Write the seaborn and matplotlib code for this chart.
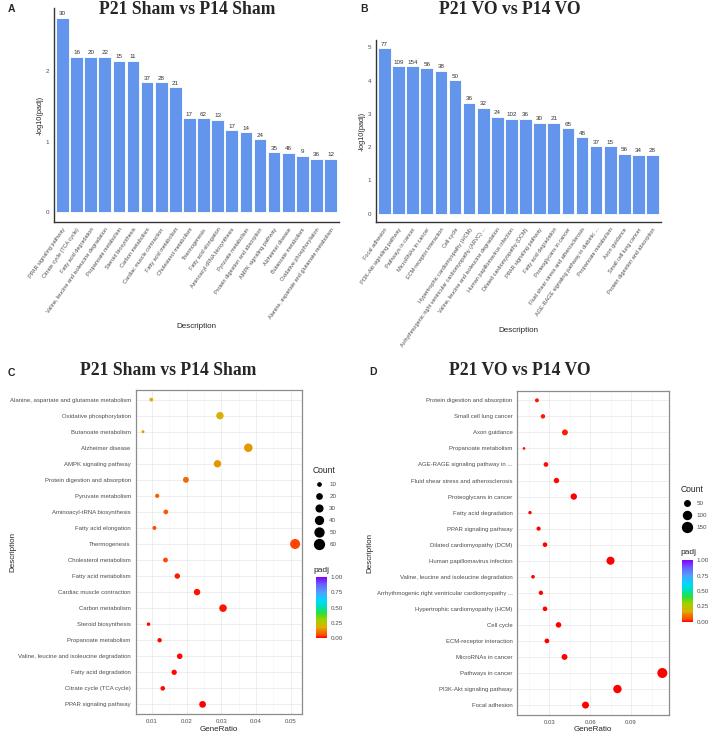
import matplotlib
matplotlib.use("Agg")
import matplotlib.pyplot as plt
from matplotlib.colors import LinearSegmentedColormap, Normalize
from matplotlib.cm import ScalarMappable
from matplotlib.ticker import MultipleLocator, FormatStrFormatter
import seaborn as sns

# Sham: P21 vs P14 KEGG enrichment (bar order = bottom-to-top order of dot plot)
sham_terms = [
    "PPAR signaling pathway", "Citrate cycle (TCA cycle)", "Fatty acid degradation",
    "Valine, leucine and isoleucine degradation", "Propanoate metabolism",
    "Steroid biosynthesis", "Carbon metabolism", "Cardiac muscle contraction",
    "Fatty acid metabolism", "Cholesterol metabolism", "Thermogenesis",
    "Fatty acid elongation", "Aminoacyl-tRNA biosynthesis", "Pyruvate metabolism",
    "Protein digestion and absorption", "AMPK signaling pathway", "Alzheimer disease",
    "Butanoate metabolism", "Oxidative phosphorylation",
    "Alanine, aspartate and glutamate metabolism",
]
sham_log_padj = [2.75, 2.20, 2.20, 2.20, 2.14, 2.14, 1.84, 1.84, 1.77, 1.33,
                 1.33, 1.31, 1.16, 1.13, 1.03, 0.85, 0.84, 0.80, 0.76, 0.76]
sham_count = [30, 16, 20, 22, 15, 11, 37, 28, 21, 17, 62, 13, 17, 14, 24, 35, 46, 9, 36, 12]
sham_ratio = [0.0246, 0.0131, 0.0164, 0.0180, 0.0122, 0.0090, 0.0305, 0.0230, 0.0173,
              0.0139, 0.0513, 0.0107, 0.0140, 0.0115, 0.0198, 0.0289, 0.0378, 0.0074,
              0.0296, 0.0098]

# VO: P21 vs P14
vo_terms = [
    "Focal adhesion", "PI3K-Akt signaling pathway", "Pathways in cancer",
    "MicroRNAs in cancer", "ECM-receptor interaction", "Cell cycle",
    "Hypertrophic cardiomyopathy (HCM)",
    "Arrhythmogenic right ventricular cardiomyopathy ...",
    "Valine, leucine and isoleucine degradation", "Human papillomavirus infection",
    "Dilated cardiomyopathy (DCM)", "PPAR signaling pathway", "Fatty acid degradation",
    "Proteoglycans in cancer", "Fluid shear stress and atherosclerosis",
    "AGE-RAGE signaling pathway in ...", "Propanoate metabolism", "Axon guidance",
    "Small cell lung cancer", "Protein digestion and absorption",
]
vo_bar_labels = [
    "Focal adhesion", "PI3K-Akt signaling pathway", "Pathways in cancer",
    "MicroRNAs in cancer", "ECM-receptor interaction", "Cell cycle",
    "Hypertrophic cardiomyopathy (HCM)",
    "Arrhythmogenic right ventricular cardiomyopathy (ARVC) ...",
    "Valine, leucine and isoleucine degradation", "Human papillomavirus infection",
    "Dilated cardiomyopathy (DCM)", "PPAR signaling pathway", "Fatty acid degradation",
    "Proteoglycans in cancer", "Fluid shear stress and atherosclerosis",
    "AGE-RAGE signaling pathway in diabetic ...", "Propanoate metabolism", "Axon guidance",
    "Small cell lung cancer", "Protein digestion and absorption",
]
vo_log_padj = [4.97, 4.43, 4.43, 4.38, 4.30, 4.01, 3.33, 3.19, 2.91, 2.85,
               2.85, 2.74, 2.74, 2.57, 2.30, 2.03, 2.03, 1.80, 1.77, 1.77]
vo_count = [77, 109, 154, 56, 38, 50, 36, 32, 24, 102, 36, 30, 21, 65, 48, 37, 15, 56, 34, 28]
vo_ratio = [0.0566, 0.0800, 0.1129, 0.0412, 0.0283, 0.0368, 0.0269, 0.0239, 0.0181,
            0.0749, 0.0269, 0.0222, 0.0159, 0.0480, 0.0353, 0.0276, 0.0115, 0.0415,
            0.0254, 0.0210]

sham_padj = [10 ** -v for v in sham_log_padj]
vo_padj = [10 ** -v for v in vo_log_padj]

BAR_COLOR = "#6495ED"
TXT = "#4D4D4D"
SANS = "Liberation Sans"
SERIF = "Liberation Serif"

padj_cmap = LinearSegmentedColormap.from_list("padj", [
    (0.0, "#FF0000"), (0.05, "#FF5000"), (0.1, "#F27000"), (0.17, "#DCB000"),
    (0.3, "#A0D000"), (0.4, "#30E030"), (0.5, "#00E0B0"), (0.62, "#00D8FF"),
    (0.75, "#50A0FF"), (0.88, "#6A60FF"), (1.0, "#8000FF"),
])

sns.set_style("white")
plt.rcParams["font.family"] = [SANS, "DejaVu Sans"]

W, H = 709, 734
fig = plt.figure(figsize=(W / 100, H / 100), dpi=100)


def px_axes(l, t, r, b):
    return fig.add_axes([l / W, 1 - b / H, (r - l) / W, (b - t) / H])


def px_text(x, y, s, **kw):
    fig.text(x / W, 1 - y / H, s, ha=kw.pop("ha", "center"), va=kw.pop("va", "center"), **kw)


def bar_panel(rect, terms, values, counts, yticks):
    ax = px_axes(*rect)
    sns.barplot(x=terms, y=values, color=BAR_COLOR, saturation=1, width=0.9,
                edgecolor="white", linewidth=0.6, ax=ax)
    ax.bar_label(ax.containers[0], labels=[str(c) for c in counts],
                 fontsize=4.5, padding=1, color="#333333")
    ax.set_xlim(-0.6, len(terms) - 0.4)
    top = max(values) * 1.05
    ax.set_ylim(-max(values) * 0.05, top)
    ax.set_yticks(yticks)
    ax.tick_params(axis="both", length=2, width=0.6, color="#333333",
                   labelsize=4.5, labelcolor=TXT, pad=1.5)
    plt.setp(ax.get_xticklabels(), rotation=55, ha="right", rotation_mode="anchor",
             fontsize=4.0)
    for side in ("top", "right"):
        ax.spines[side].set_visible(False)
    for side in ("left", "bottom"):
        ax.spines[side].set_color("#333333")
        ax.spines[side].set_linewidth(1.0)
    ax.set_xlabel("")
    ax.set_ylabel("-log10(padj)", fontsize=5.3, labelpad=1.5)
    return ax


def dot_panel(rect, terms, ratio, counts, padj, xlim, xmajor, size_norm, sizes, ylab_x):
    ax = px_axes(*rect)
    sns.scatterplot(x=ratio, y=terms, size=counts, sizes=sizes, size_norm=size_norm,
                    hue=padj, hue_norm=(0, 1), palette=padj_cmap, legend=False,
                    edgecolor="none", linewidth=0, ax=ax, zorder=3)
    ax.set_xlim(*xlim)
    ax.set_ylim(-0.6, len(terms) - 0.4)
    ax.xaxis.set_major_locator(MultipleLocator(xmajor))
    ax.xaxis.set_minor_locator(MultipleLocator(xmajor / 2))
    ax.xaxis.set_major_formatter(FormatStrFormatter("%.2f"))
    ax.grid(True, which="major", color="#EBEBEB", linewidth=0.6)
    ax.grid(True, which="minor", axis="x", color="#F4F4F4", linewidth=0.4)
    ax.set_axisbelow(True)
    for s in ax.spines.values():
        s.set_color("#8C8C8C")
        s.set_linewidth(0.9)
    ax.tick_params(axis="both", which="major", length=2, width=0.5, color="#4D4D4D",
                   labelsize=4.3, labelcolor=TXT, pad=1.5)
    ax.tick_params(axis="x", which="minor", length=0)
    l, t, r, b = rect
    ax.set_xlabel("GeneRatio", fontsize=5.8, va="center")
    ax.xaxis.set_label_coords(0.5, (b - 729.5) / (b - t))
    ax.set_ylabel("Description", fontsize=5.8, va="center")
    ax.yaxis.set_label_coords((ylab_x - l) / (r - l), 0.5)
    return ax


def size_of(v, size_norm, sizes):
    lo, hi = size_norm
    return sizes[0] + (v - lo) / (hi - lo) * (sizes[1] - sizes[0])


def count_legend(ax, x, y, values, size_norm, sizes):
    handles = [ax.scatter([], [], s=size_of(v, size_norm, sizes), color="black")
               for v in values]
    leg = ax.legend(handles, [str(v) for v in values], title="Count", loc="upper left",
                    bbox_to_anchor=(x / W, 1 - y / H), bbox_transform=fig.transFigure,
                    frameon=False, fontsize=4.5, title_fontsize=6.2, borderpad=0,
                    borderaxespad=0, labelspacing=1.05, handletextpad=0.6,
                    handlelength=2.0, alignment="left", scatterpoints=1)
    for t in leg.get_texts():
        t.set_color(TXT)


def padj_bar(rect):
    cax = px_axes(*rect)
    cb = fig.colorbar(ScalarMappable(norm=Normalize(0, 1), cmap=padj_cmap), cax=cax,
                      ticks=[0, 0.25, 0.5, 0.75, 1.0], format="%.2f")
    cb.outline.set_visible(False)
    cax.tick_params(labelsize=4.5, labelcolor=TXT, length=2, width=0.5,
                    color="white", direction="in", pad=2.5)
    return cax


# A
bar_panel((54, 8, 339, 222), sham_terms, sham_log_padj, sham_count, [0, 1, 2])
px_text(196.5, 326, "Description", fontsize=5.8)
# B
bar_panel((376, 40, 661, 222), vo_bar_labels, vo_log_padj, vo_count, [0, 1, 2, 3, 4, 5])
px_text(518.5, 330, "Description", fontsize=5.8)

# C
axc = dot_panel((135.7, 390, 301.7, 714), sham_terms, sham_ratio, sham_count, sham_padj,
                (0.0053, 0.0532), 0.01, (9, 62), (4.7, 52), 13)
count_legend(axc, 313, 466, [10, 20, 30, 40, 50, 60], (9, 62), (4.7, 52))
px_text(313, 571, "padj", fontsize=6.0, ha="left")
padj_bar((316, 577, 327, 638))

# D
axd = dot_panel((517.3, 390.7, 669.3, 714.7), vo_terms, vo_ratio, vo_count, vo_padj,
                (0.0066, 0.118), 0.03, (15, 154), (3.8, 52), 370)
count_legend(axd, 680.5, 485, [50, 100, 150], (15, 154), (3.8, 52))
px_text(680.5, 553, "padj", fontsize=6.0, ha="left")
padj_bar((682, 560, 693, 622))

# titles and panel letters
title_kw = dict(fontsize=12.7, fontweight="bold", family=SERIF, va="baseline")
px_text(186.7, 14.5, "P21 Sham vs P14 Sham", **title_kw)
px_text(510, 13.8, "P21 VO vs P14 VO", **title_kw)
px_text(168.5, 375, "P21 Sham vs P14 Sham", **title_kw)
px_text(519.5, 375, "P21 VO vs P14 VO", **title_kw)
letter_kw = dict(fontsize=7.5, fontweight="bold")
px_text(11.7, 9.3, "A", **letter_kw)
px_text(364.3, 9, "B", **letter_kw)
px_text(11.7, 372.7, "C", **letter_kw)
px_text(373.3, 372, "D", **letter_kw)

fig.savefig("out.png", dpi=100)
